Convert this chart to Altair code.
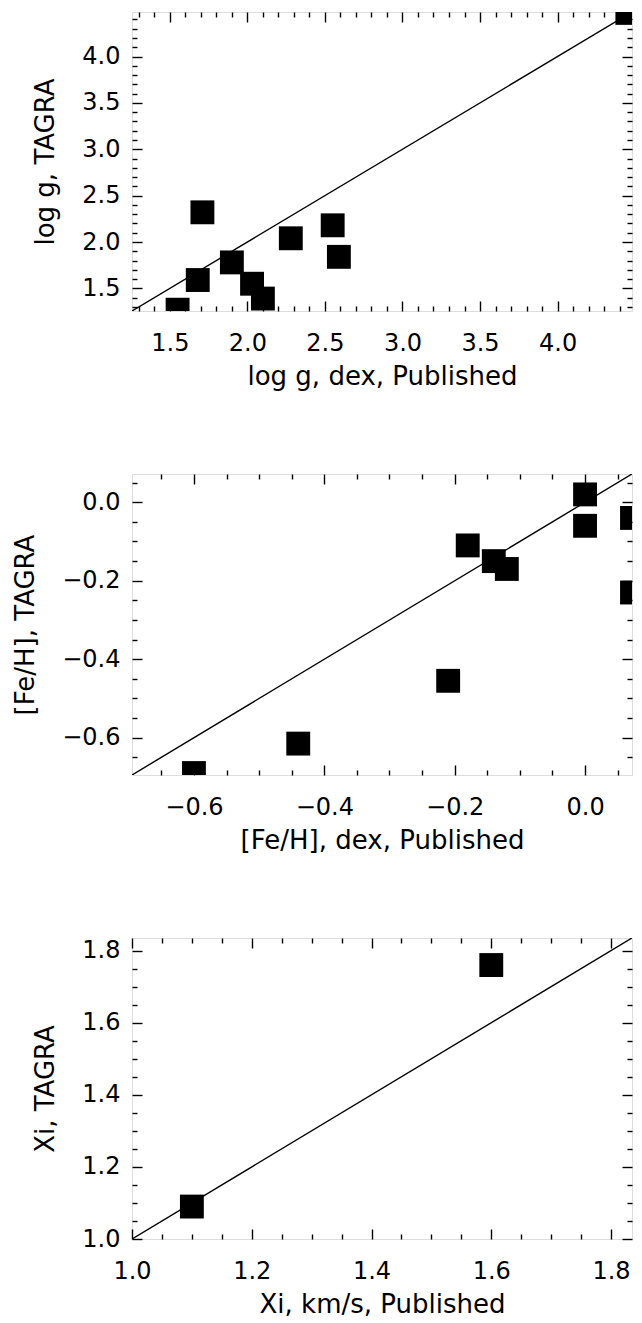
import altair as alt
import pandas as pd

# ---------------- data ----------------
logg_pub = [1.55, 1.71, 1.68, 1.90, 2.03, 2.10, 2.28, 2.55, 2.59, 4.45]
logg_tagra = [1.27, 2.32, 1.59, 1.78, 1.55, 1.39, 2.04, 2.18, 1.84, 4.47]
logg_range = [1.256, 4.48]
logg_major = [1.5, 2.0, 2.5, 3.0, 3.5, 4.0]
logg_minor = [1.3, 1.4, 1.6, 1.7, 1.8, 1.9, 2.1, 2.2, 2.3, 2.4, 2.6, 2.7, 2.8,
              2.9, 3.1, 3.2, 3.3, 3.4, 3.6, 3.7, 3.8, 3.9, 4.1, 4.2, 4.3, 4.4]

feh_pub = [-0.60, -0.44, -0.21, -0.18, -0.14, -0.12, 0.00, 0.00, 0.072, 0.072]
feh_tagra = [-0.69, -0.615, -0.455, -0.11, -0.15, -0.17, 0.02, -0.06, -0.04, -0.23]
feh_range = [-0.695, 0.072]
feh_major = [-0.6, -0.4, -0.2, 0.0]
feh_minor = [-0.65, -0.55, -0.5, -0.45, -0.35, -0.3, -0.25, -0.15, -0.1, -0.05, 0.05]

xi_pub = [1.10, 1.60]
xi_tagra = [1.09, 1.76]
xi_range = [1.0, 1.835]
xi_major = [1.0, 1.2, 1.4, 1.6, 1.8]
xi_minor = [1.05, 1.1, 1.15, 1.25, 1.3, 1.35, 1.45, 1.5, 1.55, 1.65, 1.7, 1.75]

FONT = "DejaVu Sans"
LFS = 24
TFS = 26
W = 500


def panel(xs, ys, dom, major, minor, xtitle, ytitle, fmt, h):
    df = pd.DataFrame({"x": xs, "y": ys})
    ldf = pd.DataFrame({"x": dom, "y": dom})
    sc = alt.Scale(domain=dom, nice=False, zero=False)

    common = dict(grid=False, domain=False, tickColor="black", tickWidth=1.4,
                  labelFont=FONT, labelFontSize=LFS, labelColor="black",
                  titleFont=FONT, titleFontSize=TFS, titleColor="black",
                  titleFontWeight="normal", format=fmt, labelOverlap=False,
                  labelFlush=False)

    def ax(orient, vals, size, labels, title=None, lp=0, tp=0):
        kw = dict(common)
        kw.update(orient=orient, values=vals, tickSize=size, offset=-size,
                  labels=labels, title=title)
        if labels:
            kw.update(labelPadding=lp)
        if title is not None:
            kw.update(titlePadding=tp)
        return alt.Axis(**kw)

    pts = alt.Chart(df).mark_square(size=570, color="black", opacity=1,
                                    clip=True).encode(
        x=alt.X("x:Q", scale=sc, axis=ax("bottom", major, 10, True, xtitle, 20, 8)),
        y=alt.Y("y:Q", scale=sc, axis=ax("left", major, 10, True, ytitle, 12, 23)),
    )
    line = alt.Chart(ldf).mark_line(color="black", strokeWidth=1.4,
                                    clip=True).encode(
        x=alt.X("x:Q", scale=sc, axis=ax("top", major, 10, False)),
        y=alt.Y("y:Q", scale=sc, axis=ax("right", major, 10, False)),
    )
    m1 = alt.Chart(ldf).mark_line(opacity=0).encode(
        x=alt.X("x:Q", scale=sc, axis=ax("bottom", minor, 5, False)),
        y=alt.Y("y:Q", scale=sc, axis=ax("left", minor, 5, False)),
    )
    m2 = alt.Chart(ldf).mark_line(opacity=0).encode(
        x=alt.X("x:Q", scale=sc, axis=ax("top", minor, 5, False)),
        y=alt.Y("y:Q", scale=sc, axis=ax("right", minor, 5, False)),
    )
    return (
        alt.layer(m1, m2, line, pts)
        .resolve_scale(x="independent", y="independent")
        .resolve_axis(x="independent", y="independent")
        .properties(width=W, height=h)
    )


p1 = panel(logg_pub, logg_tagra, logg_range, logg_major, logg_minor,
           "log g, dex, Published", "log g, TAGRA", ".1f", 299)
p2 = panel(feh_pub, feh_tagra, feh_range, feh_major, feh_minor,
           "[Fe/H], dex, Published", "[Fe/H], TAGRA", ".1f", 301)
p3 = panel(xi_pub, xi_tagra, xi_range, xi_major, xi_minor,
           "Xi, km/s, Published", "Xi, TAGRA", ".1f", 301)

chart = (
    alt.vconcat(p1, p2, p3, spacing=163, bounds="flush")
    .properties(padding={"left": 4, "top": 2, "right": 0, "bottom": -1})
    .configure_view(stroke="black", strokeWidth=1.4)
    .configure(background="white")
)

chart.save("out.html", embed_options={"renderer": "svg", "actions": False})
